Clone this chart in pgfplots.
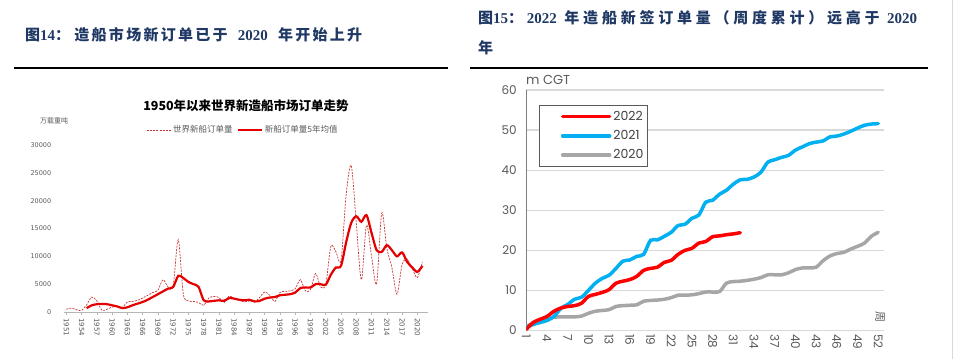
\documentclass[border=0pt]{standalone}
\usepackage{fontspec}
\usepackage{pgfplots}
\pgfplotsset{compat=1.18}
\setmainfont{Liberation Sans}
\newfontfamily\cjk{Noto Sans CJK SC}
\newfontfamily\ser{Liberation Serif}
\newfontfamily\dvs{DejaVu Sans}
\newfontfamily\pop{Poppins}
\definecolor{hdr}{RGB}{31,56,100}
\definecolor{dashred}{RGB}{200,50,50}
\definecolor{solred}{RGB}{228,0,0}
\definecolor{c22}{RGB}{255,0,0}
\definecolor{c21}{RGB}{0,176,240}
\definecolor{c20}{RGB}{166,166,166}
\definecolor{gridc}{RGB}{217,217,217}
\definecolor{axc}{RGB}{128,128,128}
\definecolor{lab}{RGB}{89,89,89}
\begin{document}
\begin{tikzpicture}
\path[use as bounding box] (0pt,0pt) rectangle (957pt,359pt);
% headers
\node[anchor=west, text=hdr, inner sep=0pt, font=\fontsize{15}{18}\selectfont\bfseries] at (25pt,324pt)
 {\makebox[337pt][s]{{\cjk 图}{\ser 14}{\cjk ：}\hspace{2pt}\hfil{\cjk 造}\hfil{\cjk 船}\hfil{\cjk 市}\hfil{\cjk 场}\hfil{\cjk 新}\hfil{\cjk 订}\hfil{\cjk 单}\hfil{\cjk 已}\hfil{\cjk 于}\hspace{8pt}\hfil{\ser 2020}\hspace{8pt}\hfil{\cjk 年}\hfil{\cjk 开}\hfil{\cjk 始}\hfil{\cjk 上}\hfil{\cjk 升}}};
\node[anchor=west, text=hdr, inner sep=0pt, font=\fontsize{15}{18}\selectfont\bfseries] at (478pt,341pt)
 {\makebox[439pt][s]{{\cjk 图}{\ser 15}{\cjk ：}\hfil{\ser 2022}\hfil\hfil{\cjk 年}\hfil{\cjk 造}\hfil{\cjk 船}\hfil{\cjk 新}\hfil{\cjk 签}\hfil{\cjk 订}\hfil{\cjk 单}\hfil{\cjk 量}\hfil{\cjk （}\hfil{\cjk 周}\hfil{\cjk 度}\hfil{\cjk 累}\hfil{\cjk 计}\hfil{\cjk ）}\hfil{\cjk 远}\hfil{\cjk 高}\hfil{\cjk 于}\hfil\hfil{\ser 2020}}};
\node[anchor=west, text=hdr, inner sep=0pt, font=\fontsize{15}{18}\selectfont\bfseries\cjk] at (478pt,311pt) {年};
\draw[line width=1.5pt] (14pt,291pt) -- (448pt,291pt);
\draw[line width=1.5pt] (470pt,291pt) -- (928pt,291pt);
\draw[gridc, line width=0.8pt] (952pt,0pt) -- (952pt,359pt);

% left chart
\node[font=\cjk\bfseries\fontsize{12.5}{14}\selectfont] at (246pt,253pt) {1950年以来世界新造船市场订单走势};
\node[font=\cjk\fontsize{7}{8}\selectfont, text=lab] at (54pt,238pt) {万载重吨};
\begin{axis}[at={(63.8pt,47pt)}, anchor=south west, scale only axis,
  width=363.7pt, height=167pt,
  xmin=1950.5, xmax=2022, ymin=0, ymax=30000,
  axis x line*=bottom, axis y line*=left,
  axis line style={-},
  x axis line style={draw=gridc!60!gray, line width=0.8pt},
  y axis line style={draw=none},
  xtick={1951,1954,...,2020}, ytick={0,5000,...,30000},
  major x tick style={draw=gridc!60!gray, line width=0.6pt},
  major y tick style={draw=none},
  tick align=outside, major tick length=3pt,
  scaled y ticks=false,
  /pgf/number format/1000 sep={},
  /pgf/number format/assume math mode=true,
  tick label style={font=\dvs\fontsize{6.5}{8}\selectfont, text=lab},
  x tick label style={rotate=-90, anchor=west, font=\dvs\fontsize{7}{8}\selectfont},
  y tick label style={xshift=-6pt},
  legend columns=2,
  legend style={draw=none, fill=none, at={(0.493,1.09)}, anchor=center,
    font=\cjk\fontsize{8.5}{10}\selectfont, text=lab,
    /tikz/every even column/.append style={column sep=2pt}},
  legend image code/.code={\draw[#1] (0pt,0pt) -- (24pt,0pt);},
]
\addplot[dashred, line width=0.7pt, dash pattern=on 2pt off 1.2pt, smooth] coordinates {
(1951,500) (1952,700) (1953,400) (1954,300) (1955,1300) (1956,2700) (1957,2000) (1958,300) (1959,500) (1960,900)
(1961,1000) (1962,800) (1963,1800) (1964,1900) (1965,2100) (1966,2500) (1967,3000) (1968,3500) (1969,3900) (1970,5800)
(1971,4500) (1972,4700) (1973,13000) (1974,3200) (1975,2000) (1976,1900) (1977,1700) (1978,1200) (1979,2500) (1980,2800)
(1981,2600) (1982,1700) (1983,2900) (1984,2400) (1985,2100) (1986,1800) (1987,2000) (1988,1800) (1989,2600) (1990,3600)
(1991,3000) (1992,1900) (1993,3500) (1994,3700) (1995,3800) (1996,4200) (1997,5800) (1998,3800) (1999,4000) (2000,6900)
(2001,4500) (2002,5000) (2003,11800) (2004,10800) (2005,9300) (2006,21000) (2007,26300) (2008,16000) (2009,5800) (2010,15600)
(2011,10000) (2012,5100) (2013,17800) (2014,11500) (2015,8000) (2016,3200) (2017,8500) (2018,9500) (2019,7800) (2020,6200)
(2021,9000)};
\addlegendentry{世界新船订单量}
\addplot[solred, line width=2.2pt, smooth] coordinates {
(1955,700) (1956,1200) (1957,1400) (1958,1450) (1959,1400) (1960,1200)
(1961,1000) (1962,700) (1963,850) (1964,1200) (1965,1500) (1966,1800) (1967,2200) (1968,2700) (1969,3200) (1970,3700)
(1971,4200) (1972,4500) (1973,6500) (1974,6100) (1975,5400) (1976,5000) (1977,4500) (1978,2100) (1979,1900) (1980,2000)
(1981,2100) (1982,2000) (1983,2500) (1984,2400) (1985,2200) (1986,2100) (1987,2200) (1988,1900) (1989,2000) (1990,2400)
(1991,2600) (1992,2700) (1993,3000) (1994,3100) (1995,3200) (1996,3500) (1997,4300) (1998,4400) (1999,4400) (2000,5000)
(2001,5000) (2002,4900) (2003,6700) (2004,8000) (2005,8300) (2006,12500) (2007,16000) (2008,17200) (2009,16200) (2010,17400)
(2011,14200) (2012,11100) (2013,10800) (2014,12000) (2015,11100) (2016,10000) (2017,10700) (2018,9000) (2019,8000) (2020,7200)
(2021,8300)};
\addlegendentry{新船订单量5年均值}
\end{axis}

% right chart
\node[anchor=west, font=\pop\fontsize{13}{15}\selectfont, text=lab, inner sep=0pt] at (526pt,279pt) {m CGT};
\node[rotate=-90, font=\cjk\fontsize{11}{12}\selectfont, text=lab] at (880pt,42pt) {周};
\begin{axis}[at={(526.3pt,28.5pt)}, anchor=south west, scale only axis,
  width=357.8pt, height=240.5pt,
  xmin=1, xmax=52.85, ymin=0, ymax=60,
  axis x line*=bottom, axis y line*=left,
  axis line style={-},
  x axis line style={draw=gridc, line width=1.2pt},
  y axis line style={draw=axc, line width=1pt},
  ymajorgrids, grid style={draw=gridc, line width=1.2pt},
  xtick={1,4,...,52}, ytick={0,10,...,60},
  tick style={draw=none},
  /pgf/number format/assume math mode=true,
  tick label style={font=\pop\fontsize{12}{14}\selectfont, text=lab},
  x tick label style={rotate=-90, anchor=west},
  y tick label style={xshift=-6pt},
  reverse legend,
  legend cell align=left,
  legend style={at={(0.0363,0.938)}, anchor=north west, draw=axc!70!black, line width=0.8pt,
    font=\pop\fontsize{12.5}{13}\selectfont, text=black!75, row sep=4.5pt, inner xsep=2pt, inner ysep=4pt},
  legend image code/.code={\path[draw=none] (0pt,-3pt) -- (0pt,3pt); \draw[#1, line width=3.5pt] (21pt,0pt) -- (68pt,0pt);},
]
\addplot[c20, line width=3.5pt, smooth, line cap=round] coordinates {
(1,1) (2,1.8) (3,2.3) (4,2.8) (5,3.3) (6,3.4) (7,3.4) (8,3.4) (9,3.6) (10,4.3)
(11,4.8) (12,5) (13,5.2) (14,6) (15,6.2) (16,6.3) (17,6.4) (18,7.3) (19,7.5) (20,7.6)
(21,7.8) (22,8.2) (23,8.8) (24,8.8) (25,8.9) (26,9.2) (27,9.6) (28,9.6) (29,9.7) (30,11.8)
(31,12.2) (32,12.3) (33,12.5) (34,12.8) (35,13.2) (36,13.9) (37,13.9) (38,13.9) (39,14.4) (40,15.2)
(41,15.6) (42,15.6) (43,15.8) (44,17.4) (45,18.6) (46,19.2) (47,19.5) (48,20.3) (49,21) (50,21.8)
(51,23.5) (52,24.5)};
\addlegendentry{2020\hspace{6pt}}
\addplot[c21, line width=3.5pt, smooth, line cap=round] coordinates {
(1,0.8) (2,1.5) (3,2) (4,2.5) (5,3.5) (6,5.5) (7,6.5) (8,7.8) (9,8.3) (10,10)
(11,11.8) (12,13) (13,13.8) (14,15.5) (15,17.3) (16,17.6) (17,18.5) (18,19) (19,22.5) (20,22.6)
(21,23.5) (22,24.5) (23,26.2) (24,26.5) (25,28) (26,28.8) (27,32) (28,32.5) (29,34) (30,35)
(31,36.5) (32,37.6) (33,37.7) (34,38.3) (35,39.5) (36,42) (37,42.6) (38,43.2) (39,43.7) (40,45)
(41,45.8) (42,46.6) (43,47) (44,47.3) (45,48.3) (46,48.5) (47,49) (48,49.7) (49,50.5) (50,51.2)
(51,51.5) (52,51.6)};
\addlegendentry{2021\hspace{6pt}}
\addplot[c22, line width=3.5pt, smooth, line cap=round] coordinates {
(1,0.3) (2,2) (3,2.8) (4,3.5) (5,4.8) (6,5.6) (7,6) (8,6.2) (9,6.8) (10,8.5)
(11,9) (12,9.5) (13,10.2) (14,11.8) (15,12.3) (16,12.7) (17,13.5) (18,15) (19,15.5) (20,15.8)
(21,17) (22,17.5) (23,19) (24,20) (25,20.5) (26,21.8) (27,22.2) (28,23.4) (29,23.6) (30,23.9)
(31,24.1) (32,24.4)};
\addlegendentry{2022\hspace{6pt}}
\end{axis}
\end{tikzpicture}
\end{document}
